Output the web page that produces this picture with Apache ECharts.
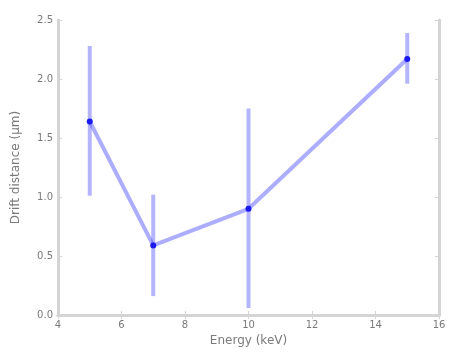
<!DOCTYPE html>
<html>
<head>
<meta charset="utf-8">
<script src="https://cdn.jsdelivr.net/npm/echarts@6/dist/echarts.min.js"></script>
<style>
html,body{margin:0;padding:0;background:#fff;}
#chart{width:449px;height:352px;filter:blur(0.5px);}
</style>
</head>
<body>
<div id="chart"></div>
<script>
// data
var energy = [5, 7, 10, 15];
var drift = [1.64, 0.59, 0.90, 2.17];
var errLow = [1.01, 0.16, 0.06, 1.96];
var errHigh = [2.28, 1.02, 1.75, 2.39];
var xTicks = [4, 6, 8, 10, 12, 14, 16];
var yTicks = [0.0, 0.5, 1.0, 1.5, 2.0, 2.5];

var myChart = echarts.init(document.getElementById("chart"));

var pts = [], bars = [];
for (var i = 0; i < energy.length; i++) {
    pts.push([energy[i], drift[i]]);
    bars.push([energy[i], errLow[i], errHigh[i]]);
}

var axisGray = "#d4d4d4";
var labelGray = "#7a7a7a";
var font = "DejaVu Sans";

// same scale, only the frame ticks on the top / right side
function mirror(base, pos) {
    return {
        type: "value", position: pos,
        min: base.min, max: base.max, interval: base.interval,
        axisLine: { show: true, lineStyle: { color: axisGray, width: 3 } },
        axisTick: { show: true, inside: true, length: 4, lineStyle: { color: axisGray } },
        axisLabel: { show: false },
        splitLine: { show: false }
    };
}

var xMain = {
    type: "value",
    min: xTicks[0], max: xTicks[xTicks.length - 1], interval: 2,
    name: "Energy (keV)",
    nameLocation: "middle",
    nameGap: 19,
    nameTextStyle: { color: labelGray, fontSize: 12, fontFamily: font },
    axisLine: { show: true, lineStyle: { color: axisGray, width: 3 } },
    axisTick: { show: true, inside: true, length: 4, lineStyle: { color: axisGray } },
    axisLabel: { color: labelGray, fontSize: 10, margin: 5, fontFamily: font },
    splitLine: { show: false }
};
var yMain = {
    type: "value",
    min: 0, max: yTicks[yTicks.length - 1], interval: 0.5,
    name: "Drift distance (\u03bcm)",
    nameLocation: "middle",
    nameGap: 36,
    nameTextStyle: { color: labelGray, fontSize: 12, fontFamily: font },
    axisLine: { show: true, lineStyle: { color: axisGray, width: 3 } },
    axisTick: { show: true, inside: true, length: 4, lineStyle: { color: axisGray } },
    axisLabel: {
        color: labelGray, fontSize: 10, margin: 5, fontFamily: font,
        formatter: function (v) { return v.toFixed(1); }
    },
    splitLine: { show: false }
};

option = {
    animation: false,
    grid: { left: 58, right: 10, top: 20, bottom: 37 },
    xAxis: [xMain, mirror(xMain, "top")],
    yAxis: [yMain, mirror(yMain, "right")],
    series: [{
        type: "custom",
        data: bars,
        renderItem: function (params, api) {
            var top = api.coord([api.value(0), api.value(2)]);
            var bot = api.coord([api.value(0), api.value(1)]);
            return {
                type: "line",
                shape: { x1: top[0], y1: top[1], x2: bot[0], y2: bot[1] },
                style: { stroke: "rgba(60,60,255,0.38)", lineWidth: 4 }
            };
        },
        z: 1
    }, {
        type: "line",
        data: pts,
        symbol: "circle",
        symbolSize: 6,
        lineStyle: { color: "rgba(60,60,255,0.42)", width: 4 },
        itemStyle: { color: "#1a1aee" },
        z: 2
    }]
};
myChart.setOption(option);
</script>
</body>
</html>
